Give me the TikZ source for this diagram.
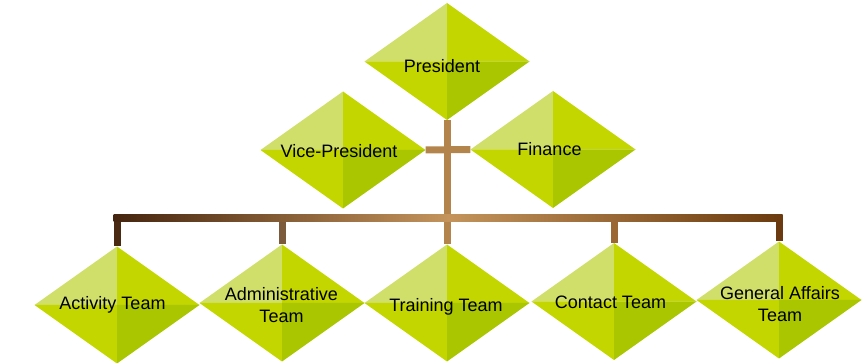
\documentclass[tikz,border=0pt]{standalone}
\usepackage{fontspec}
\setmainfont{Liberation Sans}
\definecolor{facetL}{HTML}{D0DF6A}
\definecolor{facetM}{HTML}{C3D600}
\definecolor{facetD}{HTML}{A9C600}
\definecolor{brL}{HTML}{45250F}
\definecolor{brM}{HTML}{C4945C}
\definecolor{brR}{HTML}{6B3A0E}
\definecolor{trunkc}{HTML}{B3844C}
\definecolor{drop1}{HTML}{4A2A12}
\definecolor{drop2}{HTML}{7C5A3C}
\definecolor{drop4}{HTML}{9B6733}
\definecolor{drop5}{HTML}{6B3A10}
\begin{document}
\begin{tikzpicture}[x=1pt,y=-1pt,
  spot/.style={minimum width=165pt,minimum height=117pt,inner sep=0pt},
  dia/.style={spot,
    path picture={
      \fill[facetL] (path picture bounding box.north) -- (path picture bounding box.center) -- (path picture bounding box.west) -- cycle;
      \fill[facetM] (path picture bounding box.north) -- (path picture bounding box.center) -- (path picture bounding box.east) -- cycle;
      \fill[facetM] (path picture bounding box.south) -- (path picture bounding box.center) -- (path picture bounding box.west) -- cycle;
      \fill[facetD] (path picture bounding box.south) -- (path picture bounding box.center) -- (path picture bounding box.east) -- cycle;
    }},
  lbl/.style={font=\fontsize{18}{22}\selectfont, text=black, align=center, inner sep=0pt},
  link/.style={line width=7pt}
]
\useasboundingbox (0,0) rectangle (868,363);

% diamond positions
\path (447,61.5) node[spot] (pres) {};
\path (343,150) node[spot] (vp) {};
\path (553,149.5) node[spot] (fin) {};
\path (117,305) node[spot] (act) {};
\path (282,303) node[spot] (adm) {};
\path (447,303) node[spot] (trn) {};
\path (614,301.5) node[spot] (con) {};
\path (779,300) node[spot] (gen) {};

\coordinate (bary) at (0,218);
\coordinate (b1) at (act.north |- bary);
\coordinate (b2) at (adm.north |- bary);
\coordinate (b3) at (trn.north |- bary);
\coordinate (b4) at (con.north |- bary);
\coordinate (b5) at (gen.north |- bary);

% connectors
\draw[link,trunkc] (pres.south) -- (b3);
\draw[link,trunkc] (vp.east) -- (fin.west);
\draw[link,drop1] (b1) -- (act.north);
\draw[link,drop2] (b2) -- (adm.north);
\draw[link,trunkc] (b3) -- (trn.north);
\draw[link,drop4] (b4) -- (con.north);
\draw[link,drop5] (b5) -- (gen.north);
\shade[left color=brL, right color=brR, middle color=brM]
  ([xshift=-3.5pt,yshift=3.5pt]b1) rectangle ([xshift=3.5pt,yshift=-3.5pt]b5);

% diamonds with labels
\node[dia,label={[lbl,xshift=-5pt,yshift=-4.5pt]center:President}] at (pres) {};
\node[dia,label={[lbl,xshift=-4pt,yshift=-1pt]center:Vice-President}] at (vp) {};
\node[dia,label={[lbl,xshift=-3.5pt]center:Finance}] at (fin) {};
\node[dia,label={[lbl,xshift=-4.5pt]center:Activity Team}] at (act) {};
\node[dia,label={[lbl,xshift=-0.5pt,yshift=-2.5pt]center:Administrative\\Team}] at (adm) {};
\node[dia,label={[lbl,xshift=-1pt,yshift=-3.4pt]center:Training Team}] at (trn) {};
\node[dia,label={[lbl,xshift=-3.5pt,yshift=-1pt]center:Contact Team}] at (con) {};
\node[dia,label={[lbl,xshift=1pt,yshift=-4pt]center:General Affairs\\Team}] at (gen) {};
\end{tikzpicture}
\end{document}
